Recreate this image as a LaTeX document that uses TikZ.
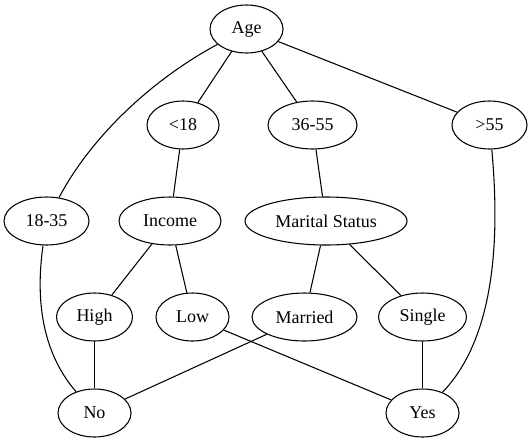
\documentclass[tikz,border=0pt]{standalone}
\usepackage{fontspec}
\setmainfont{Liberation Serif}
\usetikzlibrary{shapes.geometric}
\begin{document}
\begin{tikzpicture}[x=0.75pt,y=-0.75pt,
  nd/.style={ellipse,draw,line width=0.8pt,inner sep=0pt,minimum height=36pt,font=\fontsize{13.5}{16}\selectfont},
  ln/.style={line width=0.8pt}]
\useasboundingbox (0,0) rectangle (530,443);
\node[nd,minimum width=54.75pt] (age) at (246.5,29) {Age};
\node[nd,minimum width=54pt] (lt18) at (183,125) {<18};
\node[nd,minimum width=66.75pt] (m3655) at (312.5,125) {36-55};
\node[nd,minimum width=56.25pt] (gt55) at (489.5,125) {>55};
\node[nd,minimum width=63.75pt] (m1835) at (46.5,221) {18-35};
\node[nd,minimum width=76.5pt] (income) at (170,221) {Income};
\node[nd,minimum width=121.5pt] (marital) at (326,221) {Marital Status};
\node[nd,minimum width=57pt] (high) at (94.5,317) {High};
\node[nd,minimum width=54.75pt] (low) at (192.5,317) {Low};
\node[nd,minimum width=78.75pt] (married) at (304.5,317) {Married};
\node[nd,minimum width=66pt] (single) at (422.5,317) {Single};
\node[nd,minimum width=54.75pt] (no) at (94.5,413) {No};
\node[nd,minimum width=54.75pt] (yes) at (422.5,413) {Yes};
\draw[ln] (age) .. controls (160,75) and (95,130) .. (m1835);
\draw[ln] (age) -- (lt18);
\draw[ln] (age) -- (m3655);
\draw[ln] (age) -- (gt55);
\draw[ln] (lt18) -- (income);
\draw[ln] (m3655) -- (marital);
\draw[ln] (m1835) .. controls (36,295) and (40,350) .. (no);
\draw[ln] (gt55) .. controls (502,260) and (488,345) .. (yes);
\draw[ln] (income) -- (high);
\draw[ln] (income) -- (low);
\draw[ln] (marital) -- (married);
\draw[ln] (marital) -- (single);
\draw[ln] (high) -- (no);
\draw[ln] (low) -- (yes);
\draw[ln] (married) -- (no);
\draw[ln] (single) -- (yes);
\end{tikzpicture}
\end{document}
